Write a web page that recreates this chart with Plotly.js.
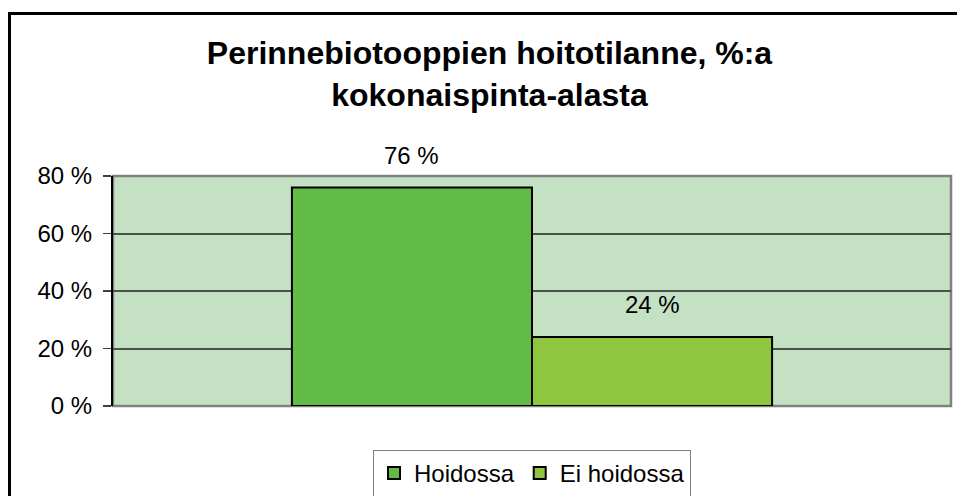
<!DOCTYPE html>
<html>
<head>
<meta charset="utf-8">
<script src="https://cdn.plot.ly/plotly-3.0.1.min.js"></script>
<style>
html,body{margin:0;padding:0;overflow:hidden;background:#fff;width:957px;height:496px;}
#wrap{position:relative;width:957px;height:496px;overflow:hidden;}
#chart{position:absolute;left:0;top:0;width:957px;height:496px;}
#frame{position:absolute;left:8px;top:12px;width:1400px;height:900px;border-left:3px solid #000;border-top:3px solid #000;pointer-events:none;box-sizing:border-box;}
</style>
</head>
<body>
<div id="wrap">
<div id="chart"></div>
<div id="frame"></div>
</div>
<script>
const category = [""];
const seriesNames = ["Hoidossa", "Ei hoidossa"];
const seriesValues = [76, 24];
const seriesColors = ["#62bb47", "#8fc640"];
const yTickVals = [0, 20, 40, 60, 80];
const yTickText = ["0 %", "20 %", "40 %", "60 %", "80 %"];

const bargap = 0.427;
const font = "Liberation Sans, Arial, sans-serif";

const traces = seriesNames.map((n, i) => ({
  type: "bar",
  name: n,
  x: category,
  y: [seriesValues[i]],
  marker: {color: seriesColors[i], line: {color: "#000", width: 2}},
  hoverinfo: "skip"
}));

const nS = seriesNames.length;
const bw = (1 - bargap) / nS;
const annotations = seriesValues.map((v, i) => ({
  x: -(1 - bargap) / 2 + bw * (i + 0.5),
  y: v,
  xref: "x", yref: "y",
  text: v + " %",
  showarrow: false,
  yanchor: "bottom",
  yshift: 17,
  font: {family: font, size: 24, color: "#000"}
}));

const layout = {
  width: 957, height: 496,
  margin: {l: 113, r: 6, t: 176, b: 90, autoexpand: false},
  paper_bgcolor: "#fff",
  plot_bgcolor: "#c4e2c3",
  font: {family: font, size: 24, color: "#000"},
  title: {
    text: "<b>Perinnebiotooppien hoitotilanne, %:a<br>kokonaispinta-alasta</b>",
    font: {family: font, size: 32, color: "#000"},
    x: 0.5115, xref: "container", xanchor: "center",
    y: 1 - 64/496, yref: "container", yanchor: "top"
  },
  barmode: "group",
  bargap: bargap,
  bargroupgap: 0,
  showlegend: true,
  legend: {
    orientation: "h",
    x: 0.5, xanchor: "center",
    y: -44/230, yanchor: "top",
    bordercolor: "#808080", borderwidth: 1,
    bgcolor: "#fff",
    itemwidth: 30,
    tracegroupgap: 0,
    font: {family: font, size: 24, color: "#000"},
    itemclick: false, itemdoubleclick: false
  },
  xaxis: {
    type: "category",
    showticklabels: false,
    ticks: "",
    showgrid: false,
    zeroline: false,
    showline: false,
    fixedrange: true
  },
  yaxis: {
    range: [0, 80],
    tickvals: yTickVals,
    ticktext: yTickText,
    ticks: "outside",
    ticklen: 8,
    tickwidth: 1.5,
    tickcolor: "#404040",
    ticklabelstandoff: 6,
    showgrid: true,
    gridcolor: "#4a524a",
    gridwidth: 2,
    zeroline: false,
    showline: true,
    linecolor: "#000",
    linewidth: 2,
    tickfont: {family: font, size: 24, color: "#000"},
    fixedrange: true
  },
  shapes: [{
    type: "rect", xref: "paper", yref: "paper",
    x0: 0, x1: 1, y0: 0, y1: 1,
    line: {color: "#808080", width: 2.5},
    layer: "below"
  }],
  annotations: annotations
};

Plotly.newPlot("chart", traces, layout, {displayModeBar: false, staticPlot: true});
</script>
</body>
</html>
